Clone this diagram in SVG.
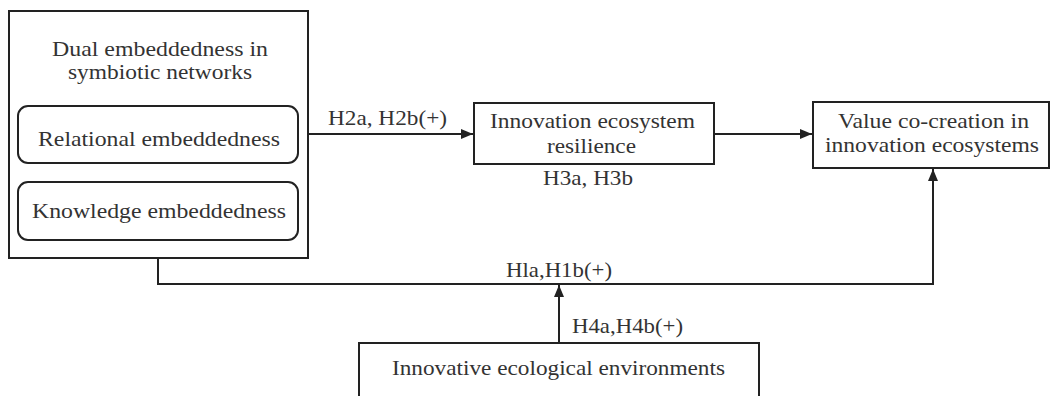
<svg xmlns="http://www.w3.org/2000/svg" width="1050" height="396" viewBox="0 0 1050 396">
<defs>
<style>
.box{fill:#fff;stroke:#222;stroke-width:2}
.l{font-family:"Liberation Serif",serif;font-size:22px;fill:#333}
.c{fill:none;stroke:#222;stroke-width:2}
</style>
<marker id="ah" markerWidth="12" markerHeight="10" refX="12" refY="5" orient="auto" markerUnits="userSpaceOnUse">
<path d="M0,0 L12,5 L0,10 Z" fill="#222"/>
</marker>
</defs>
<rect width="1050" height="396" fill="#fff"/>
<g id="connectors">
<path class="c" d="M308,134 H473" marker-end="url(#ah)"/>
<path class="c" d="M714,134 H812" marker-end="url(#ah)"/>
<path class="c" d="M158,258 V284 H933 V169" marker-end="url(#ah)"/>
<path class="c" d="M559,343 V285" marker-end="url(#ah)"/>
<text class="l" x="328" y="125" textLength="119" lengthAdjust="spacingAndGlyphs">H2a, H2b(+)</text>
<text class="l" x="543" y="185" textLength="90" lengthAdjust="spacingAndGlyphs">H3a, H3b</text>
<text class="l" x="506" y="277" textLength="106" lengthAdjust="spacingAndGlyphs">Hla,H1b(+)</text>
<text class="l" x="572" y="333" textLength="111" lengthAdjust="spacingAndGlyphs">H4a,H4b(+)</text>
</g>
<g id="dual">
<rect class="box" x="9" y="11" width="299" height="247"/>
<text class="l" x="52" y="56" style="font-size:21px" textLength="216" lengthAdjust="spacingAndGlyphs">Dual embeddedness in</text>
<text class="l" x="68" y="79" style="font-size:21px" textLength="184" lengthAdjust="spacingAndGlyphs">symbiotic networks</text>
</g>
<g id="relational">
<rect class="box" x="18" y="106" width="280" height="57" rx="10"/>
<text class="l" x="38" y="146" textLength="242" lengthAdjust="spacingAndGlyphs">Relational embeddedness</text>
</g>
<g id="knowledge">
<rect class="box" x="18" y="182" width="280" height="58" rx="10"/>
<text class="l" x="32" y="218" textLength="254" lengthAdjust="spacingAndGlyphs">Knowledge embeddedness</text>
</g>
<g id="resilience">
<rect class="box" x="474" y="103" width="240" height="61"/>
<text class="l" x="490" y="128" textLength="205" lengthAdjust="spacingAndGlyphs">Innovation ecosystem</text>
<text class="l" x="547" y="153" textLength="89" lengthAdjust="spacingAndGlyphs">resilience</text>
</g>
<g id="value">
<rect class="box" x="813" y="102" width="236" height="66"/>
<text class="l" x="838" y="128" textLength="191" lengthAdjust="spacingAndGlyphs">Value co-creation in</text>
<text class="l" x="825" y="152" textLength="214" lengthAdjust="spacingAndGlyphs">innovation ecosystems</text>
</g>
<g id="environments">
<rect class="box" x="359" y="343" width="400" height="60"/>
<text class="l" x="392" y="375" textLength="333" lengthAdjust="spacingAndGlyphs">Innovative ecological environments</text>
</g>
</svg>
